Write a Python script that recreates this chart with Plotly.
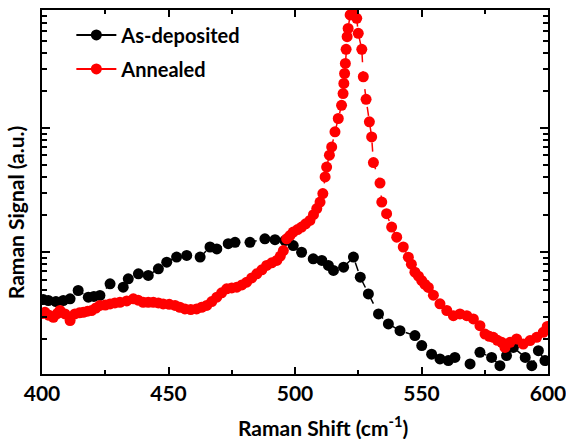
import plotly.graph_objects as go

# ---- data (Raman shift in cm^-1, signal in arbitrary units) ----
asdep_x = [400.5, 402.5, 405.5, 408.4, 411.1, 414.3, 418.3, 420.5, 422.9, 426.9, 432.1, 434.1, 438.1,
           442.0, 446.0, 449.3, 453.2, 457.2, 462.5, 466.4, 469.1, 473.6, 476.3, 482.2, 488.1,
           492.1, 496.0, 499.3, 502.6, 507.2, 510.6, 513.2, 515.2, 519.2, 523.1, 525.8, 529.0,
           533.0, 536.9, 541.5, 547.4, 550.1, 554.0, 557.3, 560.6, 563.2, 569.2, 573.1, 577.7,
           581.0, 583.6, 586.3, 591.0, 593.6, 596.2, 598.8]
asdep_y = [4.15, 4.08, 4.0, 4.08, 4.21, 4.91, 4.34, 4.4, 4.48, 5.56, 5.22, 6.10, 6.69,
           6.49, 7.34, 8.30, 9.12, 9.40, 9.12, 11.0, 10.6, 11.7, 12.0, 12.0, 12.8,
           12.6, 12.4, 11.3, 9.98, 8.83, 8.57, 7.81, 7.12, 7.57, 9.12, 6.28, 4.61,
           3.18, 2.64, 2.33, 2.13, 1.77, 1.51, 1.38, 1.34, 1.42, 1.26, 1.56, 1.42,
           1.22, 1.47, 1.71, 1.42, 1.22, 1.61, 1.34]

anneal_x = [400.2, 401.2, 402.8, 404.5, 406.0, 407.1, 409.1, 411.1, 413.0, 414.8, 416.3, 418.0,
            419.6, 421.3, 422.9, 425.0, 426.9, 428.8, 430.8, 433.5, 436.1, 438.0, 440.0, 442.0,
            444.0, 446.0, 447.9, 450.3, 452.6, 454.5, 456.5, 458.8, 461.1, 463.1, 465.1, 467.1,
            469.1, 471.0, 473.0, 475.0, 477.0, 479.0, 480.9, 482.9, 484.9, 486.9, 488.8, 490.8,
            492.8, 494.2, 495.4, 496.7, 498.0, 499.3, 501.0, 502.6, 504.2, 505.9, 507.3, 508.6,
            509.9, 511.0, 511.9, 512.5, 513.6, 514.5, 515.8, 517.1, 518.4, 519.0, 519.3, 519.6,
            519.9, 520.2, 520.6, 521.0, 521.8, 522.8, 524.4, 525.0, 526.4, 527.0, 528.1, 529.4,
            530.3, 531.0, 533.6, 534.3, 536.2, 538.2, 540.2, 542.8, 544.8, 546.0, 547.4, 548.8,
            550.1, 551.4, 552.7, 554.7, 557.3, 560.0, 562.6, 565.2, 567.9, 570.5, 573.1, 575.1,
            576.8, 578.4, 580.0, 581.7, 583.0, 585.0, 587.6, 590.2, 592.9, 595.5, 598.1, 599.7]
anneal_y = [3.2, 3.28, 3.1, 2.99, 3.2, 3.39, 3.18, 2.81, 3.18, 3.25, 3.28, 3.35,
            3.39, 3.55, 3.72, 3.75, 3.83, 3.9, 3.95, 4.05, 4.21, 4.1, 3.95, 3.95,
            3.95, 3.9, 3.83, 3.8, 3.72, 3.6, 3.49, 3.45, 3.49, 3.6, 3.72, 4.0,
            4.34, 4.7, 5.07, 5.15, 5.22, 5.45, 5.73, 6.2, 6.69, 7.2, 7.81, 8.2,
            8.57, 9.3, 10.3, 12.8, 13.6, 14.5, 15.2, 15.9, 16.9, 18.0, 20.0, 22.4,
            25.3, 29.6, 40.3, 48.4, 60.3, 70.3, 92.9, 119, 152, 189, 228, 274,
            330, 429, 542, 632, 811, 840, 762, 577, 429, 258, 170, 112,
            84.5, 52.6, 36.0, 25.3, 20.4, 15.9, 13.2, 11.0, 9.1, 8.0, 6.9, 6.4,
            5.9, 5.5, 5.2, 4.5, 3.84, 3.39, 3.08, 3.18, 3.08, 2.90, 2.56, 2.19,
            2.1, 2.06, 1.95, 1.88, 1.71, 1.88, 2.0, 1.82, 1.94, 2.06, 2.26, 2.52]

series_names = ["As-deposited", "Annealed"]
series_colors = ["black", "#ff0000"]
x_ticks = [400, 450, 500, 550, 600]

FONT = dict(family="Lato", weight="bold", color="black")

fig = go.Figure()
for name, color, xs, ys in zip(series_names, series_colors,
                               [asdep_x, anneal_x], [asdep_y, anneal_y]):
    fig.add_trace(go.Scatter(
        x=xs, y=ys, mode="lines+markers", name=name, showlegend=False,
        legendgroup=name,
        line=dict(color=color, width=1.5, dash="dash"),
        marker=dict(color=color, size=11, symbol="circle"),
    ))
# legend entries (solid line + marker, as in the original legend)
for name, color in zip(series_names, series_colors):
    fig.add_trace(go.Scatter(
        x=[None], y=[None], mode="lines+markers", name=name, legendgroup=name,
        line=dict(color=color, width=2, dash="solid"),
        marker=dict(color=color, size=11, symbol="circle"),
    ))

fig.update_layout(
    width=566, height=439,
    margin=dict(l=42, r=18, t=10, b=65, autoexpand=False),
    paper_bgcolor="white", plot_bgcolor="white",
    font=dict(size=20, **FONT),
    showlegend=True,
    legend=dict(x=0.058, y=0.985, xanchor="left", yanchor="top",
                bgcolor="rgba(0,0,0,0)", font=dict(size=20, **FONT),
                tracegroupgap=5, itemwidth=40, traceorder="grouped"),
)
fig.update_xaxes(
    range=[400, 600], tickvals=x_ticks, ticktext=[str(v) for v in x_ticks],
    ticks="inside", ticklen=7, tickwidth=2, tickcolor="black",
    showline=True, linecolor="black", linewidth=2, mirror="allticks",
    showgrid=False, zeroline=False, ticklabeloverflow="allow",
    minor=dict(ticks="inside", ticklen=4, tickwidth=1.5, dtick=25, tickcolor="black", showgrid=False),
    tickfont=dict(size=21, **FONT),
)
fig.update_yaxes(
    type="log", range=[0.019, 2.949], dtick=1,
    ticks="inside", ticklen=8, tickwidth=2, tickcolor="black",
    showline=True, linecolor="black", linewidth=2, mirror="allticks",
    showgrid=False, zeroline=False, showticklabels=False,
    minor=dict(ticks="inside", ticklen=5, tickwidth=1.5, dtick="D1", tickcolor="black", showgrid=False),
)
fig.add_annotation(text="Raman Shift (cm<sup>-1</sup>)", xref="paper", yref="paper",
                   x=0.555, y=-0.143, xanchor="center", yanchor="middle", showarrow=False,
                   font=dict(size=21, **FONT))
fig.add_annotation(text="Raman Signal (a.u.)", xref="paper", yref="paper",
                   x=-0.053, y=0.445, xanchor="center", yanchor="middle", showarrow=False,
                   textangle=-90, font=dict(size=21, **FONT))

fig.write_html("out.html")
